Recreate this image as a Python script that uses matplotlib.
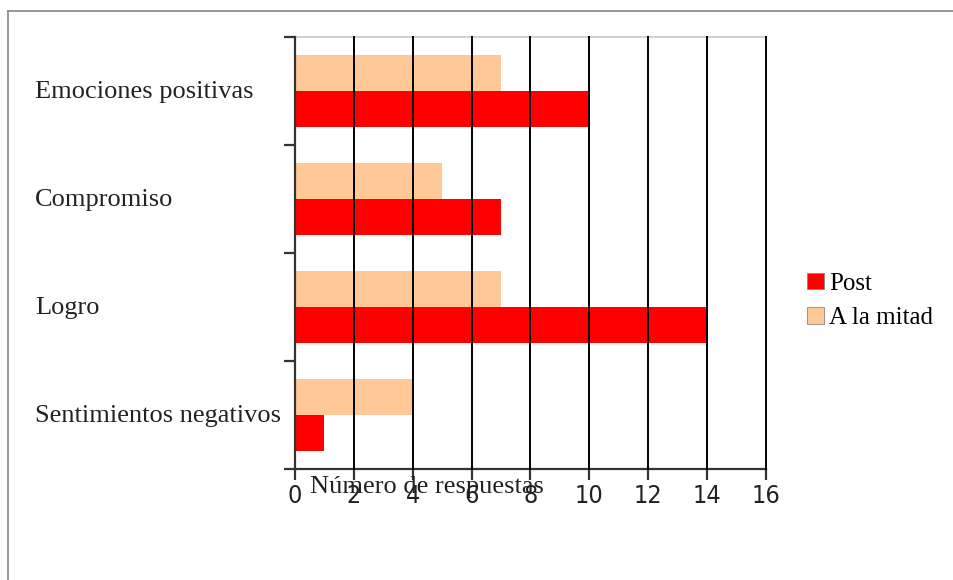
import numpy as np
import matplotlib.pyplot as plt
from matplotlib.patches import Patch
from matplotlib.lines import Line2D
from matplotlib import font_manager

categorias = ["Emociones positivas", "Compromiso", "Logro", "Sentimientos negativos"]
a_la_mitad = [7, 5, 7, 4]
post = [10, 7, 14, 1]
xticks = [0, 2, 4, 6, 8, 10, 12, 14, 16]

rojo = "#ff0000"
melocoton = "#ffc896"

# narrow digits if a condensed face is around
estrechas = [f.name for f in font_manager.fontManager.ttflist
             if f.stretch in ("condensed", "semi-condensed", 'extra-condensed')
             or "Condensed" in f.fname or "Narrow" in f.name]
fuente_num = estrechas[0] if estrechas else "Liberation Sans"
estir = "condensed" if estrechas else "normal"

fig = plt.figure(figsize=(9.54, 5.8), dpi=100)
ax = fig.add_axes([295 / 954, 1 - 469 / 580, 471 / 954, 432 / 580])

# categories from top to bottom, one unit per band
y = np.arange(len(categorias))
h = 1 / 3
ax.barh(y - h / 2, a_la_mitad, height=h, color=melocoton, zorder=1)
ax.barh(y + h / 2, post, height=h, color=rojo, zorder=1)
ax.set_ylim(len(categorias) - 0.5, -0.5)
ax.set_xlim(0, 16)

# vertical black gridlines
for v in xticks[1:]:
    ax.axvline(v, color="#000000", lw=1.4, zorder=3, clip_on=False)

ax.spines["right"].set_visible(False)
ax.spines["top"].set_color("#c8c8c8")
ax.spines["top"].set_linewidth(1.2)
ax.spines["left"].set_color("#333333")
ax.spines["left"].set_linewidth(1.6)
ax.spines["left"].set_zorder(4)
ax.spines["bottom"].set_color("#333333")
ax.spines["bottom"].set_linewidth(1.6)

ax.set_yticks(np.arange(len(categorias) + 1) - 0.5)
ax.set_yticklabels([])
ax.tick_params(axis="y", length=8, width=1.6, color="#333333")
ax.set_xticks(xticks)
ax.set_xticklabels([str(t) for t in xticks], family=fuente_num, stretch=estir,
                   fontsize=18, color="#222222")
ax.tick_params(axis="x", length=8, width=1.6, color="#333333", pad=3)

for i, c in enumerate(categorias):
    fig.text(35 / 954, 1 - (92 + 108 * i) / 580, c, family="Liberation Serif",
             fontsize=19, va="center", ha="left", color="#222222")

fig.text(427 / 954, 1 - 487 / 580, "Número de respuestas", family="Liberation Serif",
         fontsize=19, va="center", ha="center", color="#222222")

handles = [Patch(facecolor=rojo, edgecolor="#888888", lw=0.6),
           Patch(facecolor=melocoton, edgecolor="#888888", lw=0.6)]
fig.legend(handles, ["Post", "A la mitad"], loc="center left",
           bbox_to_anchor=(795 / 954, 1 - 301 / 580), frameon=False,
           prop={"family": "Liberation Serif", "size": 18},
           handlelength=0.65, handleheight=0.65, handletextpad=0.2,
           labelspacing=0.5, borderpad=0)

# page frame
fig.add_artist(Line2D([8 / 954, 8 / 954], [0, 1 - 11 / 580], transform=fig.transFigure,
                      color="#888888", lw=1.2))
fig.add_artist(Line2D([8 / 954, 1], [1 - 11 / 580, 1 - 11 / 580], transform=fig.transFigure,
                      color="#888888", lw=1.2))

fig.savefig("out.png", dpi=100)
